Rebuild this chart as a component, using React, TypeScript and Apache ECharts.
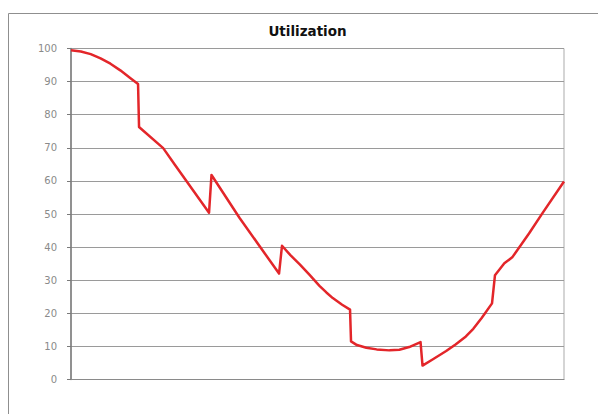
import React, { useEffect, useRef } from "react";
import * as echarts from "echarts";

const titleText = "Utilization";
const yTicks = [0, 10, 20, 30, 40, 50, 60, 70, 80, 90, 100];
const xPos = [
  0, 2, 4, 6, 8, 10, 12, 13.6, 13.8, 18.7, 21.1, 28.0, 28.5, 34.2, 42.2, 42.8, 44.5, 46.4, 48.4, 50.4,
  51.8, 53.1, 55.0, 56.6, 56.8, 58.0, 59.9, 62.0, 64.6, 66.6, 68.6, 70.9, 71.3, 73.5, 76.1, 78.0, 80.1,
  81.6, 83.3, 85.4, 86.0, 87.9, 89.5, 92.9, 95.6, 100,
];
const utilization = [
  99.5, 99.1, 98.3, 97.0, 95.4, 93.4, 91.1, 89.3, 76.3, 69.9, 64.8, 50.4, 61.8, 48.8, 32.0, 40.4, 37.6,
  34.8, 31.6, 28.3, 26.3, 24.6, 22.6, 21.1, 11.5, 10.4, 9.6, 9.1, 8.8, 9.0, 9.8, 11.3, 4.2, 6.2, 8.6,
  10.6, 13.0, 15.3, 18.6, 23.0, 31.5, 35.1, 36.9, 44.1, 50.2, 59.8,
];

export default function App() {
  const ref = useRef<HTMLDivElement>(null);
  useEffect(() => {
    if (!ref.current) return;
    const chart = echarts.init(ref.current, null, { renderer: "svg" });
    const data = xPos.map((x, i) => [x, utilization[i]]);
    chart.setOption({
      animation: false,
      backgroundColor: "#ffffff",
      graphic: [
        {
          type: "rect",
          shape: { x: 8.5, y: 13.5, width: 700, height: 500 },
          style: { fill: "none", stroke: "#8f8f8f", lineWidth: 1 },
          silent: true,
        },
        {
          type: "text",
          x: 307.5,
          y: 30.5,
          style: {
            text: titleText,
            fill: "#111111",
            font: "bold 13.5px 'DejaVu Sans'",
            textAlign: "center",
            textVerticalAlign: "middle",
          },
        },
      ],
      grid: {
        left: 71,
        right: 34,
        top: 48.5,
        bottom: 34.5,
        show: true,
        borderColor: "#ababab",
        borderWidth: 1,
        backgroundColor: "transparent",
      },
      xAxis: {
        type: "value",
        min: 0,
        max: 100,
        axisLine: { show: true, onZero: false, lineStyle: { color: "#8a8a8a", width: 1 } },
        axisTick: { show: false },
        axisLabel: { show: false },
        splitLine: { show: false },
      },
      yAxis: {
        type: "value",
        min: yTicks[0],
        max: yTicks[yTicks.length - 1],
        interval: 10,
        axisLine: { show: true, lineStyle: { color: "#7a7a7a", width: 1.5 } },
        axisTick: { show: true, inside: false, length: 4, lineStyle: { color: "#7a7a7a" } },
        axisLabel: {
          color: "#8a8a8a",
          fontSize: 10,
          fontFamily: "'DejaVu Sans'",
          margin: 14,
        },
        splitLine: { show: true, lineStyle: { color: "#9a9a9a", width: 1 } },
      },
      series: [
        {
          type: "line",
          data,
          showSymbol: false,
          symbol: "none",
          smooth: false,
          lineStyle: { color: "#e3262a", width: 2.5, join: "round" },
        },
      ],
    });
    return () => chart.dispose();
  }, []);
  return (
    <div
      ref={ref}
      style={{ position: "fixed", left: 0, top: 0, width: 598, height: 414 }}
    />
  );
}
